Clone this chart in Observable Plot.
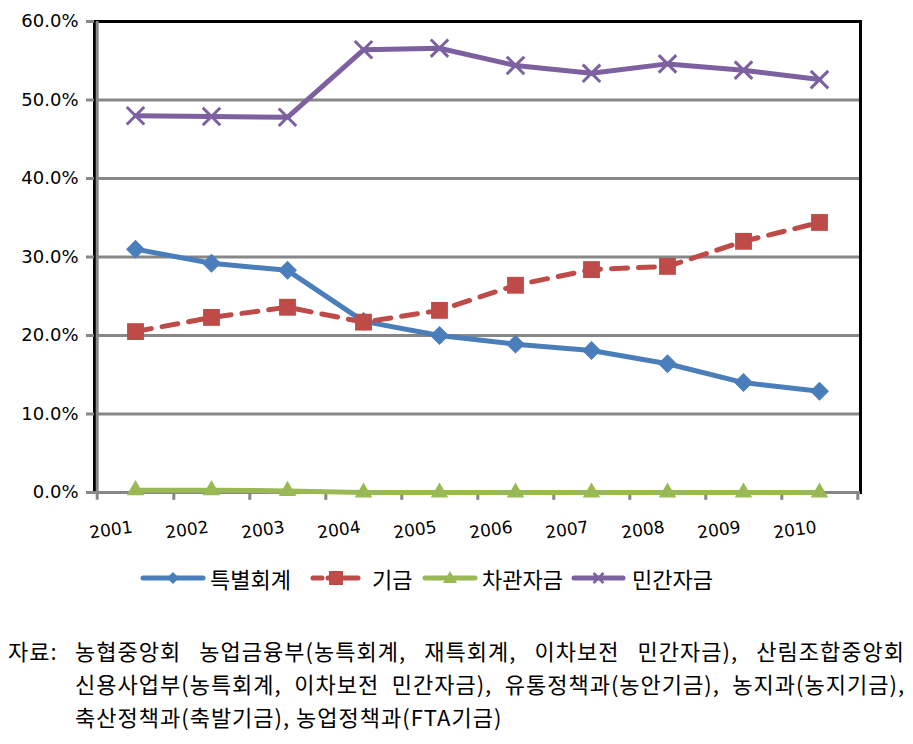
<!DOCTYPE html>
<html><head><meta charset="utf-8">
<script src="https://cdn.jsdelivr.net/npm/d3@7"></script>
<script src="https://cdn.jsdelivr.net/npm/@observablehq/plot@0.6"></script>
<style>
body{margin:0;background:#fff;}
#wrap{position:relative;width:913px;height:744px;overflow:hidden;background:#fff;}
#chart{position:absolute;left:0;top:0;}
#legend{position:absolute;left:0;top:555px;}
#note{position:absolute;left:8px;top:634px;width:897px;font-family:"Noto Sans CJK KR",sans-serif;font-size:22px;letter-spacing:1px;line-height:33px;color:#000;}
#note .ln{text-align:justify;text-align-last:justify;padding-left:67px;white-space:nowrap;}
#note .ln.first{padding-left:0;}
#note .ln.last{text-align-last:left;}
#note .lab{display:inline-block;width:67px;}
</style></head><body><div id="wrap"><div id="chart"></div><div id="legend"></div><div id="note"></div></div>
<script>
const years = ["2001","2002","2003","2004","2005","2006","2007","2008","2009","2010"];
const seriesNames = ["특별회계","기금","차관자금","민간자금"];
const specialAccount = [31.0, 29.2, 28.3, 21.8, 20.0, 18.9, 18.1, 16.4, 14.0, 12.9];
const fund = [20.5, 22.3, 23.6, 21.7, 23.2, 26.4, 28.4, 28.8, 32.0, 34.4];
const loanFund = [0.3, 0.3, 0.2, 0.0, 0.0, 0.0, 0.0, 0.0, 0.0, 0.0];
const privateFund = [48.0, 47.9, 47.8, 56.4, 56.6, 54.4, 53.4, 54.6, 53.8, 52.6];
const yTicks = [0, 10, 20, 30, 40, 50, 60];
const gridTicks = [10, 20, 30, 40, 50];
const noteLines = [
  "농협중앙회 농업금융부(농특회계, 재특회계, 이차보전 민간자금), 산림조합중앙회",
  "신용사업부(농특회계, 이차보전 민간자금), 유통정책과(농안기금), 농지과(농지기금),",
  "축산정책과(축발기금), 농업정책과(FTA기금)"
];
const noteLabel = "자료:";

const colors = ["#4A7EBB", "#BE4B48", "#98B954", "#7D60A0"];
const seriesValues = [specialAccount, fund, loanFund, privateFund];
const rows = [];
seriesNames.forEach((s, i) => years.forEach((y, j) => rows.push({series: s, year: y, value: seriesValues[i][j]})));
const bySeries = name => rows.filter(r => r.series === name);

const W = 913, H = 545, mL = 94, mR = 53, mT = 21, mB = 53;
const half = (W - mL - mR) / years.length / 2;
const grey = "#878787";

const plot = Plot.plot({
  width: W, height: H,
  marginLeft: mL, marginRight: mR, marginTop: mT, marginBottom: mB,
  style: {background: "#fff", overflow: "visible", fontFamily: "'DejaVu Sans'"},
  x: {type: "point", domain: years, padding: 0.5, label: null},
  y: {domain: [0, 60], label: null},
  marks: [
    Plot.ruleY(gridTicks, {stroke: grey, strokeWidth: 3}),
    Plot.frame({stroke: "#000", strokeWidth: 3}),
    Plot.ruleY([0], {stroke: grey, strokeWidth: 3}),
    Plot.ruleX([years[0]], {x: d => d, dx: -half, y1: -1, y2: 60, stroke: grey, strokeWidth: 3}),
    Plot.ruleX(years, {x: d => d, dx: half, y1: -1, y2: 0, stroke: grey, strokeWidth: 3}),
    Plot.axisY(yTicks, {tickSize: 8, tickPadding: 8, stroke: grey, strokeWidth: 3, fill: "#000", tickFormat: d => d.toFixed(1) + "%", label: null}),
    Plot.axisX({tickSize: 0, tickPadding: 28, tickRotate: -8, textAnchor: "end", dx: -4, fill: "#000", label: null}),
    // 특별회계
    Plot.line(bySeries(seriesNames[0]), {x: "year", y: "value", stroke: colors[0], strokeWidth: 5}),
    Plot.dot(bySeries(seriesNames[0]), {x: "year", y: "value", symbol: "square", rotate: 45, r: 7, fill: colors[0], stroke: colors[0], strokeWidth: 1}),
    // 기금
    Plot.line(bySeries(seriesNames[1]), {x: "year", y: "value", stroke: colors[1], strokeWidth: 5, strokeDasharray: "16,11"}),
    Plot.dot(bySeries(seriesNames[1]), {x: "year", y: "value", symbol: "square", r: 9.5, fill: colors[1], stroke: "none"}),
    // 차관자금
    Plot.line(bySeries(seriesNames[2]), {x: "year", y: "value", stroke: colors[2], strokeWidth: 5}),
    Plot.dot(bySeries(seriesNames[2]), {x: "year", y: "value", symbol: "triangle", r: 6.5, fill: colors[2], stroke: "none"}),
    // 민간자금
    Plot.line(bySeries(seriesNames[3]), {x: "year", y: "value", stroke: colors[3], strokeWidth: 5}),
    Plot.dot(bySeries(seriesNames[3]), {x: "year", y: "value", symbol: "times", r: 8, stroke: colors[3], strokeWidth: 3})
  ]
});
document.getElementById("chart").appendChild(plot);
// enforce axis label fonts
d3.select(plot).selectAll("text").each(function() {
  const t = d3.select(this);
  const isY = /%$/.test(t.text());
  t.style("font-family", "'DejaVu Sans'").style("font-size", isY ? "18px" : "17px");
});

// Legend
const ns = "http://www.w3.org/2000/svg";
const lg = document.createElementNS(ns, "svg");
lg.setAttribute("width", W); lg.setAttribute("height", 46);
const legItems = [
  {x1: 143, x2: 203, tx: 210},
  {x1: 313, x2: 359, tx: 372},
  {x1: 425, x2: 475, tx: 482},
  {x1: 574, x2: 623, tx: 632}
];
const cy = 23;
function el(tag, attrs) { const e = document.createElementNS(ns, tag); for (const k in attrs) e.setAttribute(k, attrs[k]); lg.appendChild(e); return e; }
legItems.forEach((it, i) => {
  const c = colors[i], mx = (it.x1 + it.x2) / 2;
  el("line", {x1: it.x1, x2: it.x2, y1: cy, y2: cy, stroke: c, "stroke-width": 5, "stroke-linecap": "round", "stroke-dasharray": i === 1 ? "9,6,30,6" : "none"});
  if (i === 0) el("path", {d: `M${mx},${cy-6}L${mx+6},${cy}L${mx},${cy+6}L${mx-6},${cy}Z`, fill: c});
  if (i === 1) el("rect", {x: mx - 7, y: cy - 7, width: 14, height: 14, fill: c});
  if (i === 2) el("path", {d: `M${mx},${cy-7}L${mx+7},${cy+5}L${mx-7},${cy+5}Z`, fill: c});
  if (i === 3) el("path", {d: `M${mx-5},${cy-5}L${mx+5},${cy+5}M${mx+5},${cy-5}L${mx-5},${cy+5}`, stroke: c, "stroke-width": 2.5});
  const t = el("text", {x: it.tx, y: cy, "dominant-baseline": "central", "font-size": 22, "font-family": "Noto Sans CJK KR, sans-serif", fill: "#000"});
  t.textContent = seriesNames[i];
});
document.getElementById("legend").appendChild(lg);

// Footnote
const note = document.getElementById("note");
noteLines.forEach((line, i) => {
  const d = document.createElement("div");
  d.className = "ln" + (i === 0 ? " first" : "") + (i === noteLines.length - 1 ? " last" : "");
  if (i === 0) {
    const lab = document.createElement("span"); lab.className = "lab"; lab.textContent = noteLabel; d.appendChild(lab);
  }
  d.appendChild(document.createTextNode(line));
  note.appendChild(d);
});
</script>
</body></html>
